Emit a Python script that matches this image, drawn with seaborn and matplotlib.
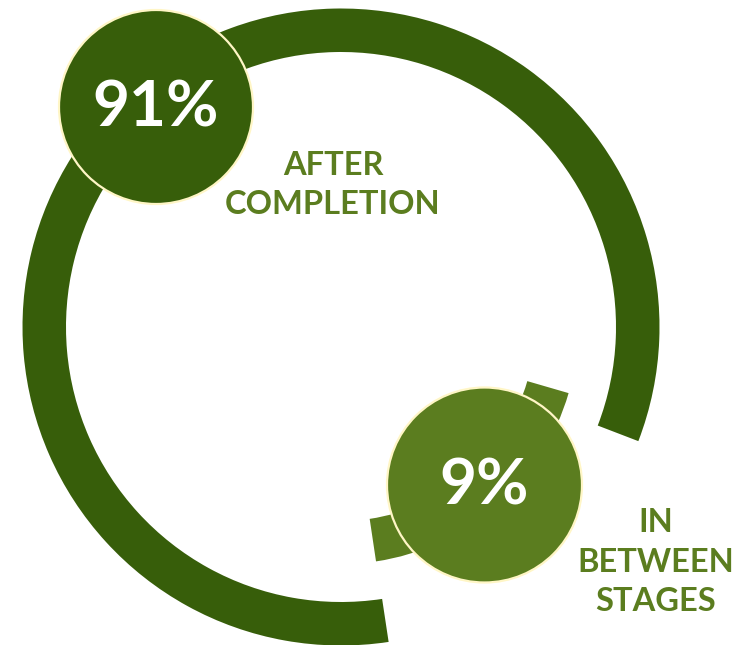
import matplotlib
matplotlib.use("Agg")
import matplotlib.pyplot as plt
from matplotlib.patches import Wedge, Circle
import seaborn as sns

# ---- data ----
categories = ["AFTER\nCOMPLETION", "IN\nBETWEEN\nSTAGES"]
shares = [91, 9]
value_labels = [f"{v}%" for v in shares]

# ---- style ----
sns.set_theme(style="white")
plt.rcParams["font.family"] = ["Lato", "DejaVu Sans"]
DARK = "#375E0A"
LIGHT = "#5B7D1F"
RIM = "#FFF6C6"

W, H = 756, 645
fig = plt.figure(figsize=(W / 100, H / 100), dpi=100)
ax = fig.add_axes([0, 0, 1, 1])
ax.set_xlim(0, W)
ax.set_ylim(0, H)
ax.axis("off")

# ring layout (pixel units, y up)
cx, cy = 341, 318
# outer ring: dark arc (share 0); inner ring: light arc (share 1)
arcs = [
    dict(r=318.5, width=43.5, t1=-21.0, t2=278.6, color=DARK),
    dict(r=237.0, width=43.0, t1=-81.5, t2=-16.2, color=LIGHT),
]
for a in arcs:
    ax.add_patch(Wedge((cx, cy), a["r"], a["t1"], a["t2"], width=a["width"],
                       facecolor=a["color"], edgecolor="none", zorder=2))

# value bubbles
bubbles = [
    dict(xy=(156, 538), r=97, color=DARK),
    dict(xy=(484.5, 160), r=97.5, color=LIGHT),
]
for b, txt in zip(bubbles, value_labels):
    ax.add_patch(Circle(b["xy"], b["r"], facecolor=b["color"], edgecolor=RIM,
                        linewidth=1.6, zorder=3))
    ax.text(b["xy"][0], b["xy"][1] - 1, txt, ha="center", va="center",
            color="white", fontsize=46, fontweight="bold", zorder=4)

# category labels
label_pos = [(333, 460), (656, 83)]
for (x, y), lab in zip(label_pos, categories):
    ax.text(x, y, lab, ha="center", va="center", color=LIGHT,
            fontsize=23.5, fontweight="bold", linespacing=1.45,
            multialignment="center", zorder=4)

fig.savefig("out.png", dpi=100)
